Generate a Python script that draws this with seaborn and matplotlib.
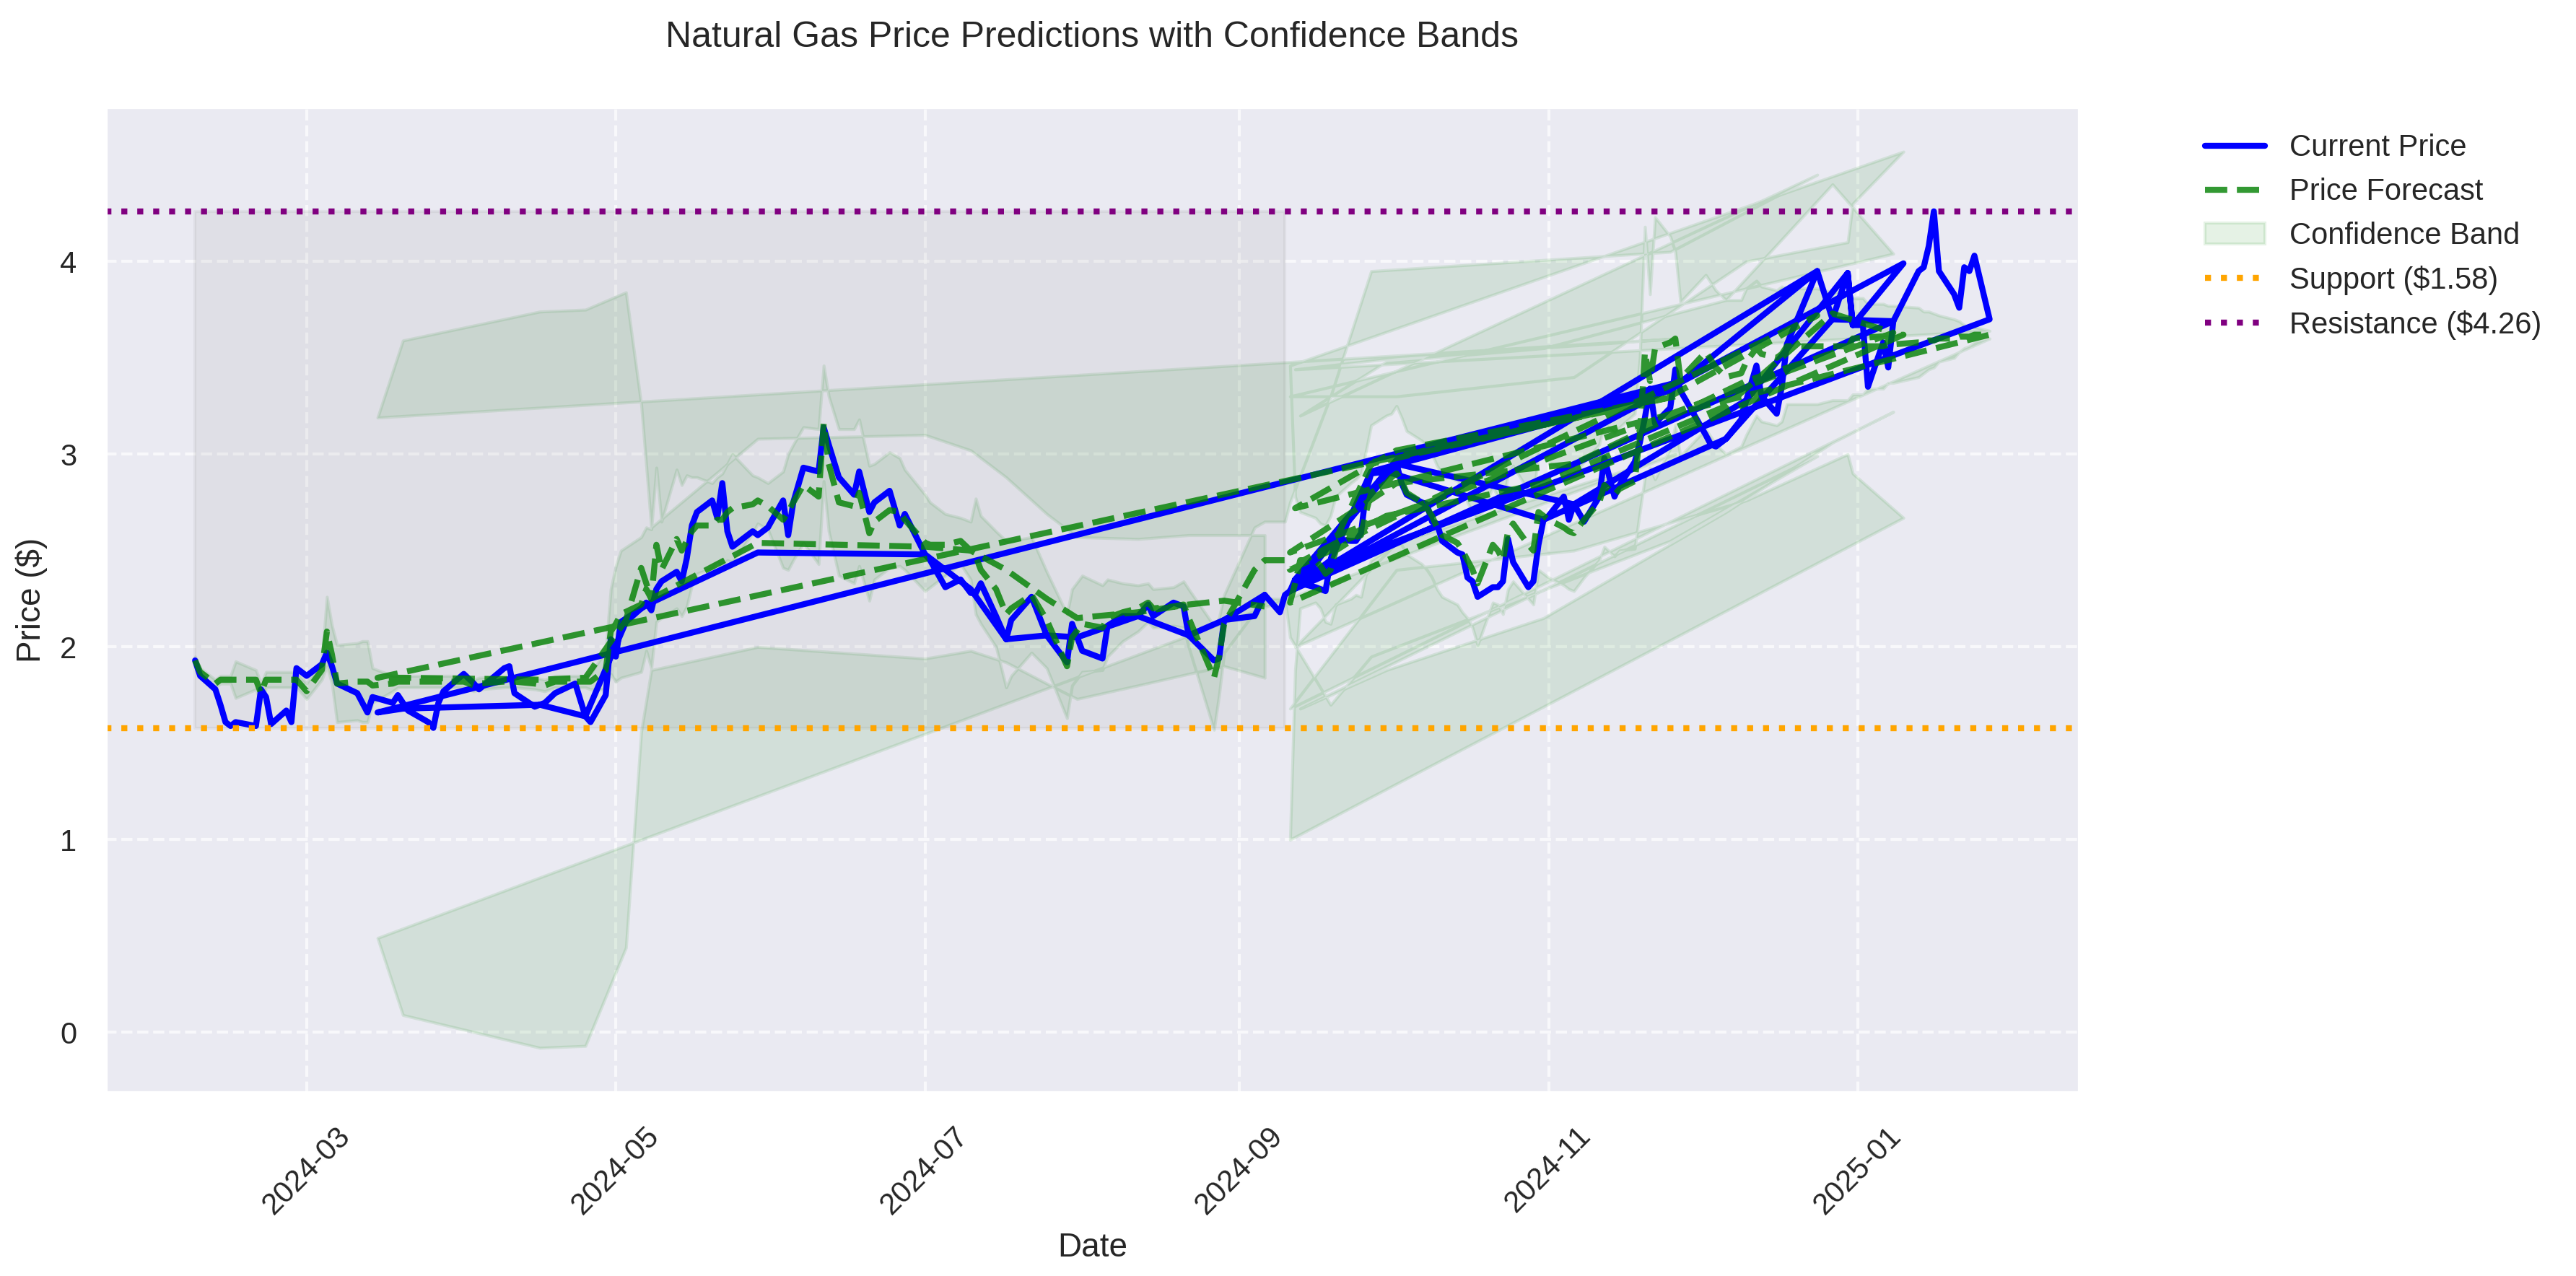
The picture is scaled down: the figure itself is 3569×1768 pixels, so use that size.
import pandas as pd
import matplotlib
matplotlib.use("Agg")
import matplotlib.pyplot as plt
import seaborn as sns

support = 1.58
resistance = 4.26

# historical window (the shaded gray period)
hist_dates = ['2024-02-08', '2024-02-09', '2024-02-12', '2024-02-13', '2024-02-14', '2024-02-15',
              '2024-02-16', '2024-02-20', '2024-02-21', '2024-02-22', '2024-02-23', '2024-02-26',
              '2024-02-27', '2024-02-28', '2024-03-01', '2024-03-04', '2024-03-05', '2024-03-06',
              '2024-03-07', '2024-03-11', '2024-03-12', '2024-03-13', '2024-03-14', '2024-03-18',
              '2024-03-19', '2024-03-21', '2024-03-25', '2024-03-26', '2024-03-27', '2024-03-28',
              '2024-04-01', '2024-04-03', '2024-04-04', '2024-04-09', '2024-04-10', '2024-04-11',
              '2024-04-15', '2024-04-17', '2024-04-19', '2024-04-23', '2024-04-25', '2024-04-26',
              '2024-04-29', '2024-04-30', '2024-05-01', '2024-05-02', '2024-05-06', '2024-05-07',
              '2024-05-08', '2024-05-09', '2024-05-10', '2024-05-13', '2024-05-14', '2024-05-15',
              '2024-05-16', '2024-05-17', '2024-05-20', '2024-05-21', '2024-05-22', '2024-05-23',
              '2024-05-24', '2024-05-28', '2024-05-29', '2024-05-31', '2024-06-03', '2024-06-04',
              '2024-06-05', '2024-06-07', '2024-06-10', '2024-06-11', '2024-06-12', '2024-06-14',
              '2024-06-17', '2024-06-18', '2024-06-20', '2024-06-21', '2024-06-24', '2024-06-26',
              '2024-06-27', '2024-07-01', '2024-07-02', '2024-07-05', '2024-07-08', '2024-07-10',
              '2024-07-11', '2024-07-12', '2024-07-15', '2024-07-17', '2024-07-18', '2024-07-22',
              '2024-07-25', '2024-07-29', '2024-07-30', '2024-08-01', '2024-08-05', '2024-08-06',
              '2024-08-09', '2024-08-12', '2024-08-14', '2024-08-15', '2024-08-19', '2024-08-21',
              '2024-08-22', '2024-08-27', '2024-08-28', '2024-08-29', '2024-09-04', '2024-09-06',
              '2024-09-09', '2024-09-10']
hist_price = [1.93, 1.85, 1.78, 1.70, 1.61, 1.59, 1.61, 1.59, 1.78, 1.74, 1.60, 1.67,
              1.61, 1.89, 1.85, 1.91, 1.97, 1.90, 1.81, 1.76, 1.71, 1.66, 1.74, 1.71,
              1.75, 1.67, 1.61, 1.58, 1.71, 1.77, 1.86, 1.81, 1.78, 1.89, 1.90, 1.76,
              1.69, 1.71, 1.76, 1.81, 1.64, 1.61, 1.75, 2.04, 1.95, 2.13, 2.20, 2.23,
              2.19, 2.30, 2.34, 2.39, 2.34, 2.46, 2.63, 2.70, 2.76, 2.67, 2.85, 2.60,
              2.52, 2.60, 2.58, 2.62, 2.76, 2.58, 2.75, 2.93, 2.91, 3.14, 3.05, 2.88,
              2.79, 2.91, 2.70, 2.75, 2.81, 2.63, 2.69, 2.48, 2.45, 2.31, 2.35, 2.28,
              2.28, 2.33, 2.16, 2.04, 2.14, 2.26, 2.06, 1.92, 2.12, 1.98, 1.94, 2.11,
              2.16, 2.16, 2.22, 2.16, 2.23, 2.21, 2.06, 1.93, 1.94, 2.14, 2.16, 2.27,
              2.18, 2.27]
hist_fc = [1.93, 1.87, 1.81, 1.83, 1.83, 1.83, 1.83, 1.83, 1.76, 1.83, 1.83, 1.83,
           1.83, 1.83, 1.77, 1.88, 2.08, 1.96, 1.81, 1.82, 1.82, 1.82, 1.80, 1.81,
           1.82, 1.82, 1.82, 1.82, 1.82, 1.82, 1.82, 1.80, 1.81, 1.82, 1.82, 1.82,
           1.81, 1.80, 1.82, 1.82, 1.82, 1.82, 1.88, 2.08, 2.12, 2.17, 2.22, 2.30,
           2.25, 2.53, 2.40, 2.56, 2.50, 2.55, 2.60, 2.63, 2.63, 2.66, 2.66, 2.70,
           2.72, 2.74, 2.76, 2.73, 2.66, 2.70, 2.75, 2.84, 2.78, 3.16, 2.95, 2.75,
           2.73, 2.80, 2.59, 2.65, 2.71, 2.70, 2.66, 2.54, 2.53, 2.53, 2.55, 2.50,
           2.47, 2.40, 2.30, 2.17, 2.20, 2.27, 2.14, 1.90, 2.05, 2.12, 2.10, 2.15,
           2.18, 2.20, 2.23, 2.20, 2.21, 2.22, 2.15, 1.84, 1.95, 2.12, 2.40, 2.45,
           2.45, 2.45]
hist_hw = [0.02, 0.02, 0.02, 0.02, 0.02, 0.02, 0.095, 0.05, 0.05, 0.04, 0.04, 0.04,
           0.04, 0.04, 0.04, 0.05, 0.18, 0.15, 0.20, 0.20, 0.21, 0.21, 0.09, 0.04,
           0.03, 0.03, 0.03, 0.03, 0.03, 0.03, 0.03, 0.03, 0.03, 0.03, 0.03, 0.03,
           0.03, 0.03, 0.03, 0.03, 0.03, 0.04, 0.10, 0.22, 0.30, 0.33, 0.35, 0.32,
           0.36, 0.40, 0.25, 0.36, 0.34, 0.34, 0.28, 0.25, 0.22, 0.22, 0.24, 0.25,
           0.28, 0.15, 0.12, 0.12, 0.25, 0.30, 0.30, 0.30, 0.35, 0.30, 0.35, 0.38,
           0.40, 0.38, 0.35, 0.30, 0.30, 0.28, 0.26, 0.25, 0.22, 0.16, 0.12, 0.15,
           0.30, 0.28, 0.30, 0.38, 0.35, 0.30, 0.25, 0.27, 0.25, 0.25, 0.22, 0.20,
           0.15, 0.12, 0.10, 0.10, 0.10, 0.12, 0.15, 0.27, 0.20, 0.15, 0.22, 0.20,
           0.20, 0.20]

# forecast run A
fa_dates = ['2024-09-11', '2024-09-19', '2024-09-27', '2024-11-25', '2024-12-24']
fa_price = [2.29, 2.45, 2.91, 3.33, 3.95]
fa_fc = [2.40, 2.50, 2.95, 3.30, 3.72]
fa_hw = [0.35, 0.80, 1.00, 0.75, 0.73]

# forecast run B
fb_dates = ['2024-09-13', '2024-09-30', '2024-10-31', '2024-12-06', '2024-12-27', '2025-01-08']
fb_price = [2.33, 2.91, 2.66, 3.08, 3.70, 3.69]
fb_fc = [2.44, 2.68, 2.85, 3.25, 3.73, 3.63]
fb_hw = [0.76, 0.80, 0.70, 0.55, 0.67, 0.41]

# forecast run C
fc_dates = ['2024-09-11', '2024-10-02', '2024-11-06', '2024-12-10', '2024-12-30', '2024-12-31',
            '2025-01-10']
fc_price = [2.29, 2.95, 2.74, 3.28, 3.94, 3.67, 3.99]
fc_fc = [2.49, 2.85, 2.95, 3.38, 3.55, 3.60, 3.62]
fc_hw = [0.81, 0.45, 0.45, 0.62, 0.55, 0.70, 0.95]

# forecast run D (daily)
fd_dates = ['2024-09-11', '2024-09-12', '2024-09-13', '2024-09-16', '2024-09-17', '2024-09-18',
            '2024-09-19', '2024-09-20', '2024-09-23', '2024-09-24', '2024-09-25', '2024-09-26',
            '2024-09-27', '2024-09-30', '2024-10-01', '2024-10-02', '2024-10-03', '2024-10-04',
            '2024-10-07', '2024-10-08', '2024-10-09', '2024-10-10', '2024-10-11', '2024-10-14',
            '2024-10-15', '2024-10-16', '2024-10-17', '2024-10-18', '2024-10-21', '2024-10-22',
            '2024-10-23', '2024-10-24', '2024-10-25', '2024-10-28', '2024-10-29', '2024-10-30',
            '2024-10-31', '2024-11-01', '2024-11-04', '2024-11-05', '2024-11-06', '2024-11-08',
            '2024-11-11', '2024-11-12', '2024-11-14', '2024-11-15', '2024-11-18', '2024-11-19',
            '2024-11-20', '2024-11-21', '2024-11-22', '2024-11-25', '2024-11-26', '2024-11-27',
            '2024-12-02', '2024-12-03', '2024-12-04', '2024-12-06', '2024-12-09', '2024-12-10',
            '2024-12-12', '2024-12-13', '2024-12-16', '2024-12-17', '2024-12-18', '2024-12-24',
            '2024-12-27', '2024-12-30', '2024-12-31', '2025-01-02', '2025-01-03', '2025-01-06',
            '2025-01-07', '2025-01-08', '2025-01-13', '2025-01-14', '2025-01-15', '2025-01-16',
            '2025-01-17', '2025-01-20', '2025-01-21', '2025-01-22', '2025-01-23', '2025-01-24',
            '2025-01-27']
fd_price = [2.29, 2.35, 2.33, 2.31, 2.30, 2.29, 2.45, 2.56, 2.55, 2.55, 2.59, 2.81,
            2.90, 2.91, 2.90, 2.95, 2.85, 2.79, 2.75, 2.74, 2.65, 2.64, 2.55, 2.49,
            2.48, 2.36, 2.34, 2.26, 2.31, 2.31, 2.34, 2.56, 2.44, 2.31, 2.34, 2.53,
            2.66, 2.68, 2.78, 2.66, 2.74, 2.65, 2.78, 2.98, 2.78, 2.84, 2.96, 3.06,
            3.19, 3.34, 3.16, 3.24, 3.44, 3.33, 3.10, 3.05, 3.04, 3.08, 3.18, 3.28,
            3.46, 3.30, 3.21, 3.35, 3.57, 3.95, 3.70, 3.94, 3.67, 3.67, 3.35, 3.58,
            3.45, 3.69, 3.95, 3.97, 4.08, 4.26, 3.95, 3.83, 3.76, 3.97, 3.95, 4.03,
            3.70]
fd_fc = [2.23, 2.33, 2.45, 2.45, 2.42, 2.38, 2.40, 2.50, 2.55, 2.57, 2.58, 2.70,
         2.80, 2.85, 2.88, 2.90, 2.86, 2.80, 2.75, 2.72, 2.68, 2.62, 2.58, 2.54,
         2.50, 2.45, 2.40, 2.33, 2.53, 2.50, 2.45, 2.60, 2.64, 2.53, 2.50, 2.70,
         2.68, 2.66, 2.62, 2.60, 2.59, 2.66, 2.75, 2.84, 2.79, 2.82, 2.86, 3.10,
         3.53, 3.38, 3.55, 3.58, 3.60, 3.39, 3.53, 3.49, 3.45, 3.40, 3.42, 3.48,
         3.55, 3.52, 3.50, 3.52, 3.56, 3.56, 3.56, 3.56, 3.56, 3.56, 3.56, 3.56,
         3.57, 3.57, 3.58, 3.58, 3.59, 3.59, 3.60, 3.60, 3.61, 3.61, 3.61, 3.62,
         3.62]
fd_hw = [1.23, 0.45, 0.25, 0.22, 0.22, 0.25, 0.28, 0.28, 0.30, 0.30, 0.32, 0.32,
         0.35, 0.35, 0.33, 0.35, 0.33, 0.32, 0.32, 0.32, 0.32, 0.32, 0.32, 0.32,
         0.32, 0.30, 0.30, 0.32, 0.30, 0.28, 0.28, 0.30, 0.30, 0.28, 0.28, 0.30,
         0.30, 0.30, 0.30, 0.30, 0.30, 0.30, 0.30, 0.32, 0.32, 0.32, 0.35, 0.40,
         0.65, 0.45, 0.68, 0.55, 0.45, 0.40, 0.40, 0.40, 0.40, 0.40, 0.38, 0.38,
         0.35, 0.35, 0.35, 0.35, 0.30, 0.30, 0.28, 0.28, 0.25, 0.25, 0.22, 0.22,
         0.20, 0.20, 0.18, 0.16, 0.15, 0.14, 0.12, 0.10, 0.08, 0.06, 0.05, 0.04,
         0.02]

# forecast run E (sparse, out of order)
fe_dates = ['2024-09-12', '2024-10-02', '2024-11-26', '2024-03-15', '2024-03-20', '2024-04-16',
            '2024-04-25', '2024-05-03', '2024-05-06', '2024-05-08', '2024-05-29', '2024-07-01',
            '2024-07-10', '2024-07-17', '2024-07-25', '2024-07-31', '2024-08-12', '2024-08-22',
            '2024-08-29', '2024-09-06']
fe_price = [2.35, 2.97, 3.37, 1.66, 1.68, 1.70, 1.64, 2.13, 2.20, 2.23, 2.49, 2.48,
            2.30, 2.04, 2.06, 2.05, 2.16, 2.06, 2.14, 2.27]
fe_fc = [2.72, 3.02, 3.30, 1.84, 1.84, 1.83, 1.84, 2.14, 2.41, 2.25, 2.54, 2.52,
         2.50, 2.40, 2.25, 2.15, 2.18, 2.22, 2.24, 2.21]
fe_hw = [0.72, 0.48, 0.30, 1.35, 1.75, 1.91, 1.91, 1.70, 0.85, 0.37, 0.54, 0.58,
         0.52, 0.48, 0.44, 0.42, 0.38, 0.36, 0.34, 0.37]

runs = [
    (hist_dates, hist_price, hist_fc, hist_hw),
    (fa_dates, fa_price, fa_fc, fa_hw),
    (fb_dates, fb_price, fb_fc, fb_hw),
    (fc_dates, fc_price, fc_fc, fc_hw),
    (fd_dates, fd_price, fd_fc, fd_hw),
    (fe_dates, fe_price, fe_fc, fe_hw),
]

frames = []
for d, p, f, w in runs:
    frames.append(pd.DataFrame({'Date': pd.to_datetime(d), 'Price': p,
                                'Forecast': f, 'Band': w}))
df = pd.concat(frames, ignore_index=True)
df['Lower'] = df['Forecast'] - df['Band']
df['Upper'] = df['Forecast'] + df['Band']

sns.set_theme(style="darkgrid")
plt.rcParams['font.family'] = ['Liberation Sans', 'DejaVu Sans']

fig, ax = plt.subplots(figsize=(3569 / 300, 1768 / 300), dpi=300)
fig.subplots_adjust(left=0.0409, right=0.8072, bottom=0.1437, top=0.9163)

sns.lineplot(data=df, x='Date', y='Price', sort=False, estimator=None,
             color='blue', linewidth=2, label='Current Price', ax=ax)
sns.lineplot(data=df, x='Date', y='Forecast', sort=False, estimator=None,
             color='green', linewidth=2, linestyle='--', alpha=0.8,
             label='Price Forecast', ax=ax)
ax.fill_between(df['Date'], df['Lower'], df['Upper'], color='green', alpha=0.1,
                label='Confidence Band')

hist_span = pd.to_datetime([hist_dates[0], hist_dates[-1]])
ax.fill_between(hist_span, support, resistance, color='gray', alpha=0.1)

ax.axhline(support, color='orange', linestyle=':', linewidth=2,
           label=f'Support (${support:.2f})')
ax.axhline(resistance, color='purple', linestyle=':', linewidth=2,
           label=f'Resistance (${resistance:.2f})')

ax.set_title('Natural Gas Price Predictions with Confidence Bands', fontsize=12, pad=20)
ax.set_xlabel('Date', fontsize=11)
ax.set_ylabel('Price ($)', fontsize=11)
ax.tick_params(labelsize=10)
plt.setp(ax.get_xticklabels(), rotation=45)
ax.grid(True, linestyle='--', alpha=0.7)
ax.legend(bbox_to_anchor=(1.05, 1), loc='upper left', fontsize=10, frameon=False)

fig.savefig('out.png', dpi=300)
